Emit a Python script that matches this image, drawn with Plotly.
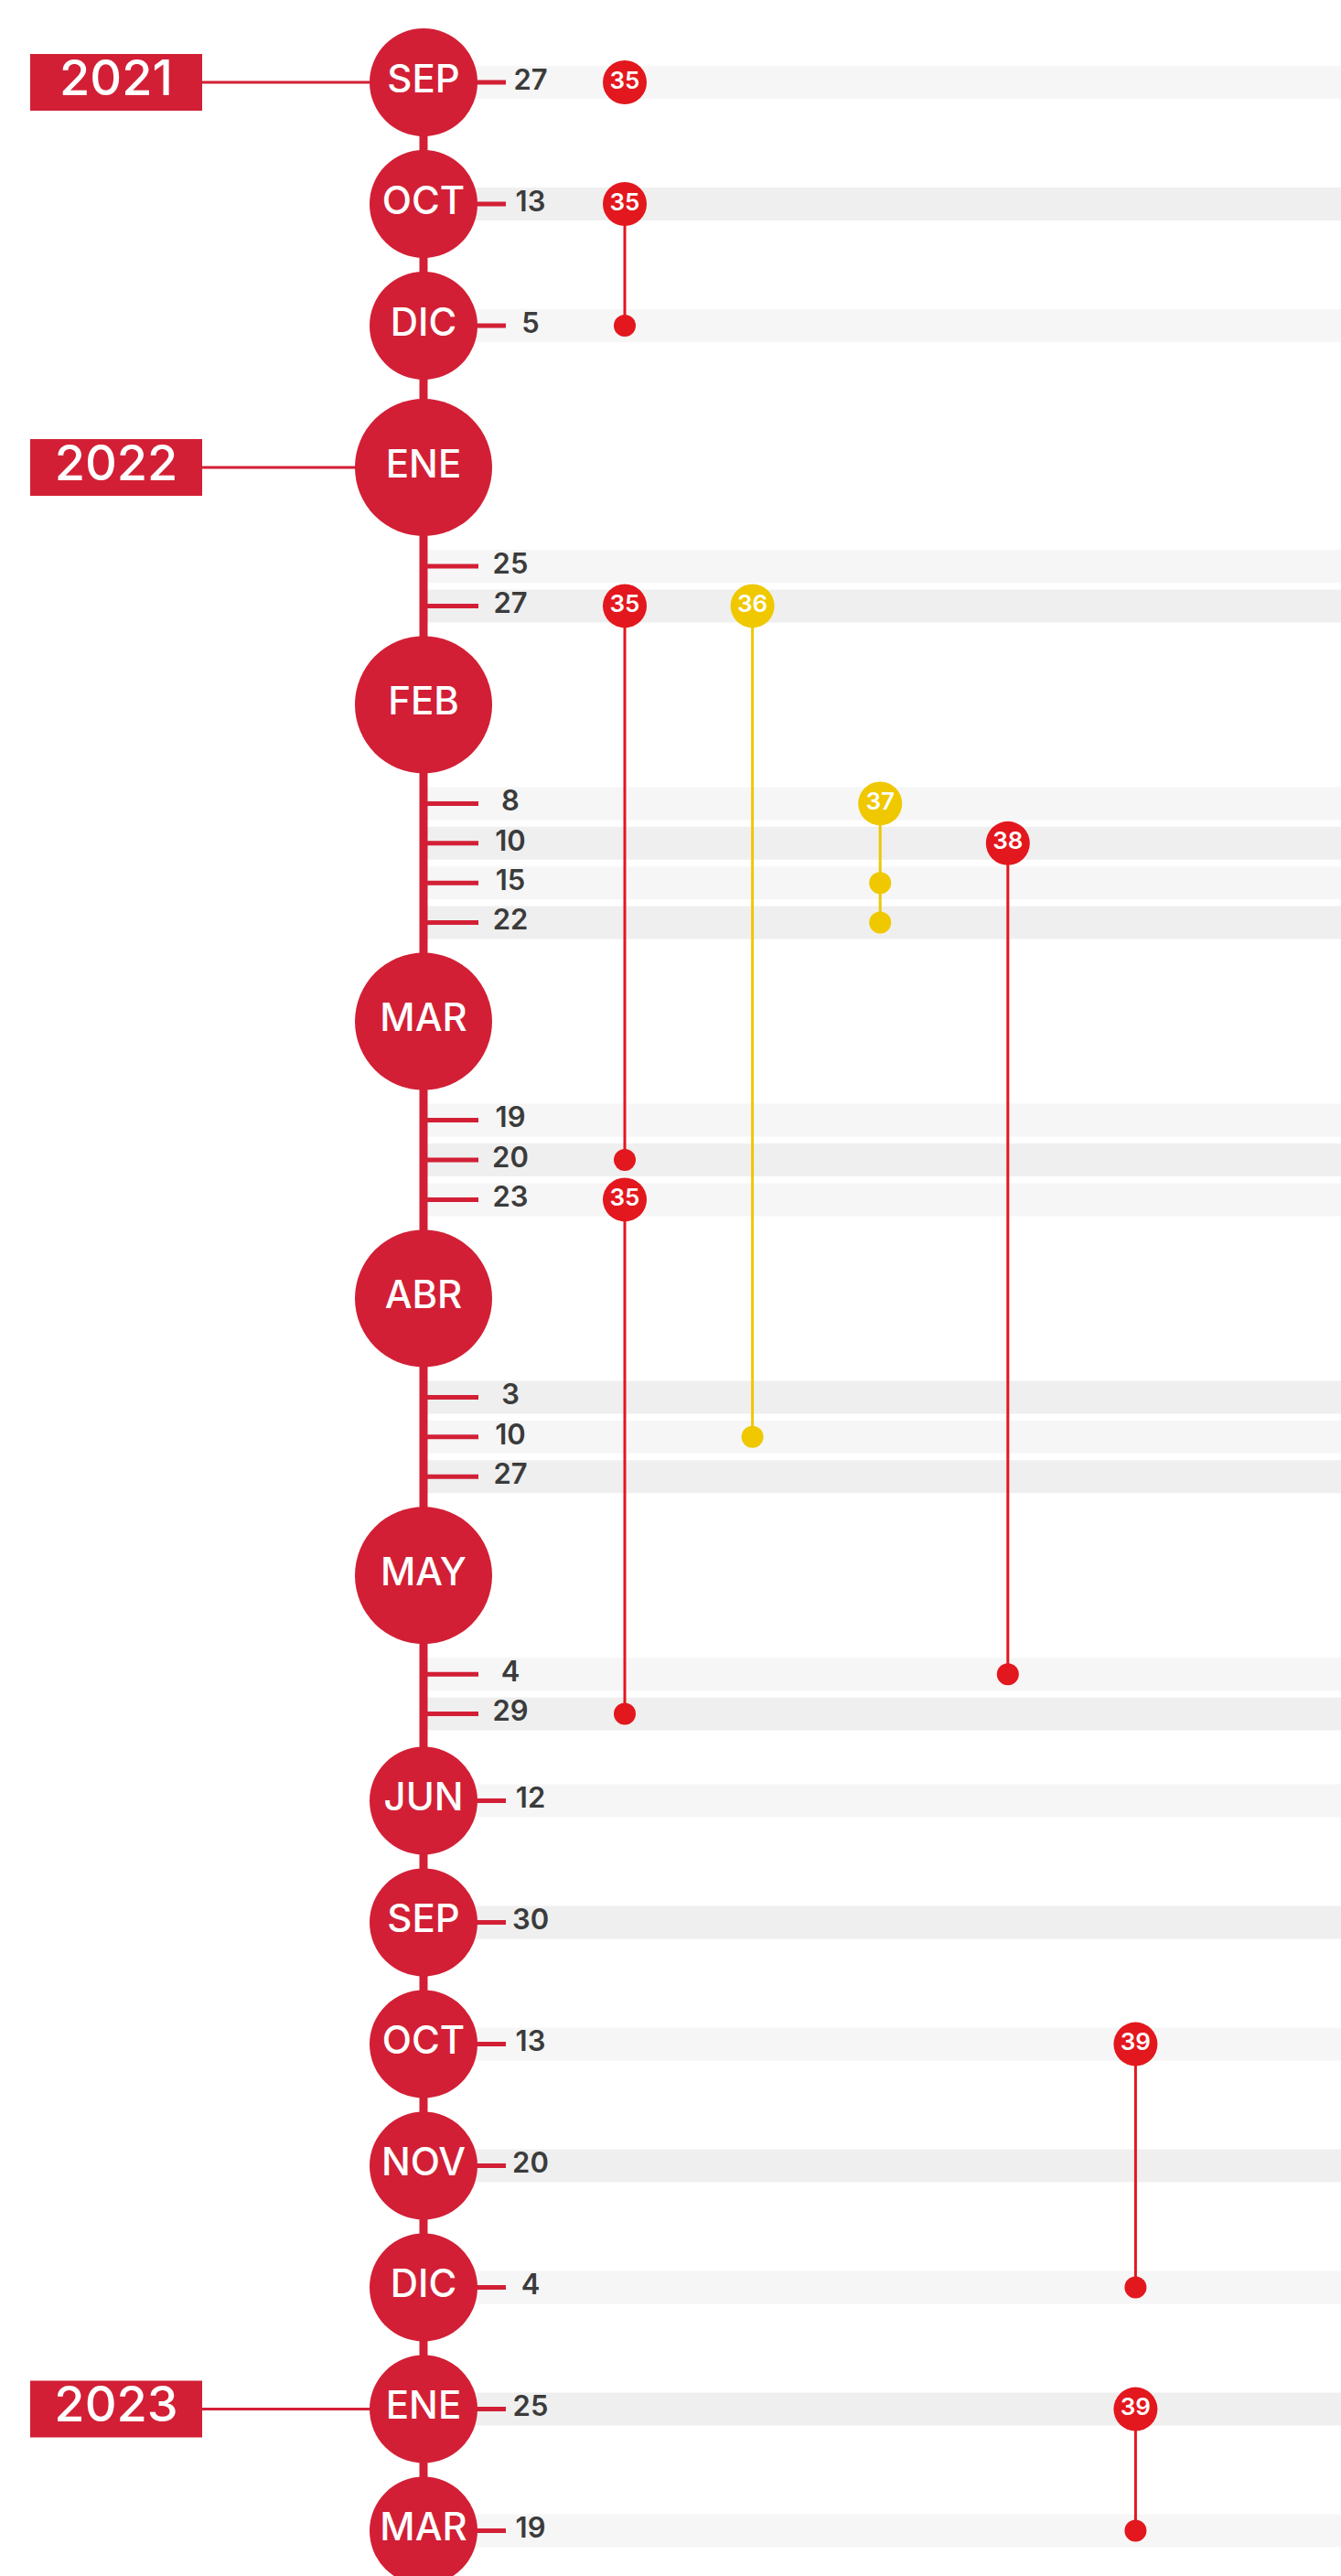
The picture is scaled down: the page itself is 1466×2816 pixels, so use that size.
import plotly.graph_objects as go

# ---------------- data ----------------
MONTHS = ["SEP", "OCT", "DIC", "ENE", "FEB", "MAR", "ABR", "MAY", "JUN",
          "SEP", "OCT", "NOV", "DIC", "ENE", "MAR"]
MONTH_NUM = [9, 10, 12, 1, 2, 3, 4, 5, 6, 9, 10, 11, 12, 1, 3]
YEARS = [2021, 2021, 2021, 2022, 2022, 2022, 2022, 2022, 2022,
         2022, 2022, 2022, 2022, 2023, 2023]
DAYS = [[27], [13], [5], [25, 27], [8, 10, 15, 22], [19, 20, 23], [3, 10, 27],
        [4, 29], [12], [30], [13], [20], [4], [25], [19]]

EVENT_NUMBER = [35, 35, 35, 35, 36, 37, 38, 39, 39]
EVENT_DATES = [
    ["2021-09-27"],
    ["2021-10-13", "2021-12-05"],
    ["2022-01-27", "2022-03-20"],
    ["2022-03-23", "2022-05-29"],
    ["2022-01-27", "2022-04-10"],
    ["2022-02-08", "2022-02-15", "2022-02-22"],
    ["2022-02-10", "2022-05-04"],
    ["2022-10-13", "2022-12-04"],
    ["2023-01-25", "2023-03-19"],
]

# ---------------- style ----------------
W, H = 1466, 2816
CRIMSON = "#d21f35"
RED = "#e3171e"
YELLOW = "#efc800"
YELLOW_SERIES = {36, 37}
TEXT_DARK = "#3b3b3b"
BAND_LIGHT = "#f6f6f6"
BAND_DARK = "#efefef"
FONT = "Inter"

SPINE_X = 463
Y0 = 90
GAP_COMPACT = 133
GAP_TO_EXPANDED = 155
GAP_MONTH_DAY = 108
GAP_DAY_DAY = 43.4
GAP_DAY_MONTH = 108
GAP_DAY_COMPACT = 95
BAND_H = 36
EVENT_X0 = 683
EVENT_STEP = 139.6
BOX_X0, BOX_X1, BOX_H = 33, 221, 62

# ---------------- layout computation ----------------
month_y = []
rows = []  # (key, y, expanded, day, year)
y = None
prev_expanded = None
for i, m in enumerate(MONTHS):
    expanded = len(DAYS[i]) > 1
    if i == 0:
        y = Y0
    elif not prev_expanded:
        y += GAP_TO_EXPANDED if expanded else GAP_COMPACT
    else:
        y += GAP_DAY_MONTH if expanded else GAP_DAY_COMPACT
    month_y.append(y)
    if expanded:
        yy = y + GAP_MONTH_DAY
        for k, d in enumerate(DAYS[i]):
            if k > 0:
                yy += GAP_DAY_DAY
            rows.append((f"{YEARS[i]}-{MONTH_NUM[i]:02d}-{d:02d}", yy, True, d, YEARS[i]))
        y = yy
    else:
        d = DAYS[i][0]
        rows.append((f"{YEARS[i]}-{MONTH_NUM[i]:02d}-{d:02d}", y, False, d, YEARS[i]))
    prev_expanded = expanded
row_y = {r[0]: r[1] for r in rows}

fig = go.Figure()
shapes = []

# bands (alternating shade, restarting after the first year)
first_year = YEARS[0]
idx_first = 0
idx_rest = 0
for key, ry, exp, d, yr in rows:
    if yr == first_year:
        k = idx_first
        idx_first += 1
    else:
        k = idx_rest
        idx_rest += 1
    shapes.append(dict(type="rect", xref="x", yref="y", x0=SPINE_X, x1=W,
                       y0=ry - BAND_H / 2, y1=ry + BAND_H / 2,
                       fillcolor=BAND_LIGHT if k % 2 == 0 else BAND_DARK,
                       line=dict(width=0), layer="below"))

# year boxes
seen = set()
year_rows = []
for i, yr in enumerate(YEARS):
    if yr not in seen:
        seen.add(yr)
        year_rows.append((str(yr), month_y[i]))
for label, my in year_rows:
    shapes.append(dict(type="rect", xref="x", yref="y", x0=BOX_X0, x1=BOX_X1,
                       y0=my - BOX_H / 2, y1=my + BOX_H / 2,
                       fillcolor=CRIMSON, line=dict(width=0), layer="below"))

# spine
fig.add_trace(go.Scatter(x=[SPINE_X, SPINE_X], y=[month_y[0], month_y[-1] + 80],
                         mode="lines", line=dict(color=CRIMSON, width=9),
                         hoverinfo="skip"))

# year connectors
cx, cy = [], []
for label, my in year_rows:
    cx += [BOX_X1, SPINE_X, None]
    cy += [my, my, None]
fig.add_trace(go.Scatter(x=cx, y=cy, mode="lines",
                         line=dict(color=CRIMSON, width=3), hoverinfo="skip"))

# day ticks
tx, ty = [], []
for key, ry, exp, d, yr in rows:
    tx += [SPINE_X, 523 if exp else 553, None]
    ty += [ry, ry, None]
fig.add_trace(go.Scatter(x=tx, y=ty, mode="lines",
                         line=dict(color=CRIMSON, width=5), hoverinfo="skip"))

# month circles
sizes = [150 if len(DAYS[i]) > 1 else 118 for i in range(len(MONTHS))]
fig.add_trace(go.Scatter(x=[SPINE_X] * len(MONTHS), y=month_y, mode="markers+text",
                         marker=dict(size=sizes, color=CRIMSON, opacity=1, line=dict(width=0)),
                         opacity=1,
                         text=MONTHS, textposition="middle center",
                         textfont=dict(family=FONT, size=42, color="white", weight=500),
                         hoverinfo="skip"))

# year labels
fig.add_trace(go.Scatter(x=[(BOX_X0 + BOX_X1) / 2] * len(year_rows),
                         y=[r[1] for r in year_rows], mode="text",
                         text=[r[0] for r in year_rows], textposition="middle center",
                         textfont=dict(family=FONT, size=54, color="white", weight=500),
                         hoverinfo="skip"))

# day labels
fig.add_trace(go.Scatter(x=[558 if r[2] else 580 for r in rows], y=[r[1] for r in rows],
                         mode="text", text=[str(r[3]) for r in rows],
                         textposition="middle center",
                         textfont=dict(family=FONT, size=31, color=TEXT_DARK, weight=600),
                         hoverinfo="skip"))

# events
n0 = min(EVENT_NUMBER)
for num, dates in zip(EVENT_NUMBER, EVENT_DATES):
    col = YELLOW if num in YELLOW_SERIES else RED
    ex = EVENT_X0 + EVENT_STEP * (num - n0)
    ys = [row_y[d] for d in dates]
    if len(ys) > 1:
        fig.add_trace(go.Scatter(x=[ex] * len(ys), y=ys, mode="lines",
                                 line=dict(color=col, width=3), hoverinfo="skip"))
        fig.add_trace(go.Scatter(x=[ex] * (len(ys) - 1), y=ys[1:], mode="markers",
                                 marker=dict(size=24, color=col, opacity=1, line=dict(width=0)),
                                 hoverinfo="skip"))
    fig.add_trace(go.Scatter(x=[ex], y=[ys[0]], mode="markers+text",
                             marker=dict(size=48, color=col, opacity=1, line=dict(width=0)),
                             text=[str(num)], textposition="middle center",
                             textfont=dict(family=FONT, size=26, color="white", weight=600),
                             hoverinfo="skip"))

fig.update_layout(
    width=W, height=H, margin=dict(l=0, r=0, t=0, b=0),
    paper_bgcolor="white", plot_bgcolor="white", showlegend=False,
    shapes=shapes,
    xaxis=dict(range=[0, W], visible=False, fixedrange=True),
    yaxis=dict(range=[H, 0], visible=False, fixedrange=True),
)
fig.write_html("out.html", config={"displayModeBar": False, "staticPlot": True},
               post_script="document.body.style.margin='0';document.body.style.overflow='hidden';")
